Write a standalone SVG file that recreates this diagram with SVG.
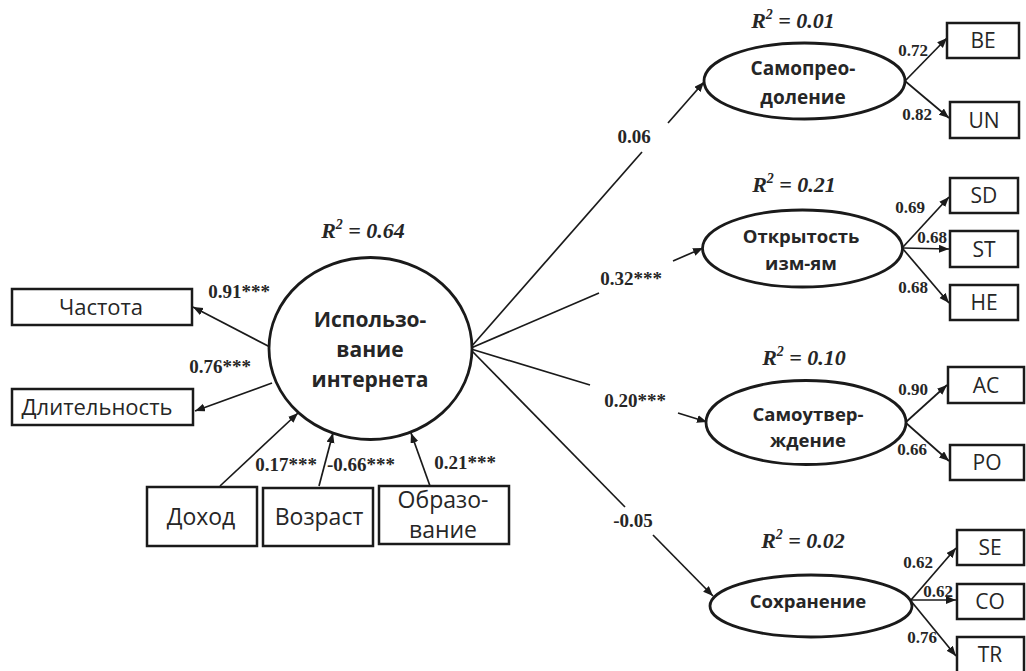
<svg xmlns="http://www.w3.org/2000/svg" width="1026" height="671" viewBox="0 0 1026 671">
<defs>
<marker id="ah" markerUnits="userSpaceOnUse" markerWidth="12" markerHeight="10" refX="10" refY="4" orient="auto">
<path d="M0,0 L10,4 L0,8 Z" fill="#1a1a1a"/>
</marker>
<style>
.box{fill:#fff;stroke:#1a1a1a;stroke-width:2.5}
.lat{fill:#fff;stroke:#1a1a1a;stroke-width:2.8}
.ln{stroke:#1a1a1a;stroke-width:1.7;fill:none}
.arr{stroke:#1a1a1a;stroke-width:1.7;fill:none;marker-end:url(#ah)}
.t{font-family:"Open Sans","Noto Sans",sans-serif;fill:#262626;text-anchor:middle}
.tb{font-family:"Open Sans","Noto Sans",sans-serif;fill:#262626;text-anchor:middle;font-weight:bold}
.c{font-family:"Liberation Serif","Times New Roman",serif;font-weight:bold;fill:#262626;text-anchor:middle}
.r2{font-family:"Liberation Serif","Times New Roman",serif;font-weight:bold;font-style:italic;fill:#262626;text-anchor:middle;font-size:22px}
</style>
</defs>
<rect width="1026" height="671" fill="#fff"/>

<g id="connectors">
<line class="arr" x1="270" y1="347" x2="193" y2="307"/>
<line class="arr" x1="272" y1="383" x2="195" y2="411"/>
<line class="arr" x1="220" y1="486" x2="298" y2="413"/>
<line class="arr" x1="319" y1="486" x2="333" y2="433"/>
<line class="arr" x1="430" y1="486" x2="411" y2="433"/>

<line class="ln" x1="471" y1="347" x2="642" y2="152"/>
<line class="arr" x1="668" y1="123" x2="704" y2="82"/>
<line class="ln" x1="471" y1="348" x2="599" y2="293"/>
<line class="arr" x1="673" y1="261" x2="703" y2="248"/>
<line class="ln" x1="471" y1="349" x2="590" y2="385"/>
<line class="arr" x1="678" y1="413" x2="707" y2="422"/>
<line class="ln" x1="471" y1="350" x2="625" y2="507"/>
<line class="arr" x1="653" y1="535" x2="713" y2="596"/>

<line class="arr" x1="905" y1="81" x2="947" y2="38"/>
<line class="arr" x1="905" y1="81" x2="949" y2="118"/>
<line class="arr" x1="903" y1="247" x2="949" y2="197"/>
<line class="arr" x1="903" y1="248" x2="949" y2="249"/>
<line class="arr" x1="903" y1="249" x2="949" y2="303"/>
<line class="arr" x1="906" y1="422" x2="947" y2="385"/>
<line class="arr" x1="906" y1="423" x2="949" y2="461"/>
<line class="arr" x1="911" y1="600" x2="956" y2="548"/>
<line class="arr" x1="911" y1="600" x2="956" y2="600"/>
<line class="arr" x1="911" y1="601" x2="956" y2="656"/>

<text class="c" font-size="19" x="239" y="298">0.91***</text>
<text class="c" font-size="19" x="220" y="373">0.76***</text>
<text class="c" font-size="19" x="286" y="471">0.17***</text>
<text class="c" font-size="19" x="361" y="471">-0.66***</text>
<text class="c" font-size="19" x="465" y="469">0.21***</text>
<text class="c" font-size="19" x="634" y="143">0.06</text>
<text class="c" font-size="19" x="631" y="285">0.32***</text>
<text class="c" font-size="19" x="635" y="407">0.20***</text>
<text class="c" font-size="19" x="633" y="527">-0.05</text>

<text class="c" font-size="17" x="913" y="56">0.72</text>
<text class="c" font-size="17" x="917" y="120">0.82</text>
<text class="c" font-size="17" x="910" y="213">0.69</text>
<text class="c" font-size="17" x="932" y="243">0.68</text>
<text class="c" font-size="17" x="913" y="293">0.68</text>
<text class="c" font-size="17" x="913" y="395">0.90</text>
<text class="c" font-size="17" x="912" y="455">0.66</text>
<text class="c" font-size="17" x="918" y="568">0.62</text>
<text class="c" font-size="17" x="938" y="597">0.62</text>
<text class="c" font-size="17" x="922" y="643">0.76</text>
</g>

<g id="r2-labels">
<text class="r2" x="363" y="238">R<tspan font-size="14" dy="-9">2</tspan><tspan dy="9"> = 0.64</tspan></text>
<text class="r2" x="793" y="28">R<tspan font-size="14" dy="-9">2</tspan><tspan dy="9"> = 0.01</tspan></text>
<text class="r2" x="794" y="192">R<tspan font-size="14" dy="-9">2</tspan><tspan dy="9"> = 0.21</tspan></text>
<text class="r2" x="804" y="365">R<tspan font-size="14" dy="-9">2</tspan><tspan dy="9"> = 0.10</tspan></text>
<text class="r2" x="803" y="548">R<tspan font-size="14" dy="-9">2</tspan><tspan dy="9"> = 0.02</tspan></text>
</g>

<g id="internet">
<ellipse class="lat" cx="370.5" cy="348.5" rx="101.5" ry="91"/>
<text class="tb" font-size="21" x="370" y="327">Использо-</text>
<text class="tb" font-size="21" x="370" y="357">вание</text>
<text class="tb" font-size="21" x="370" y="387">интернета</text>
</g>

<g id="chastota">
<rect class="box" x="12" y="289" width="180" height="36"/>
<text class="t" font-size="22" x="101" y="315">Частота</text>
</g>
<g id="dlitelnost">
<rect class="box" x="12" y="389" width="181" height="36"/>
<text class="t" font-size="22" x="97" y="415">Длительность</text>
</g>
<g id="dohod">
<rect class="box" x="147" y="487" width="110" height="59"/>
<text class="t" font-size="23" x="201" y="525">Доход</text>
</g>
<g id="vozrast">
<rect class="box" x="263" y="488" width="110" height="58"/>
<text class="t" font-size="23" x="319" y="525">Возраст</text>
</g>
<g id="obrazovanie">
<rect class="box" x="379" y="486" width="130" height="58"/>
<text class="t" font-size="23" x="443" y="508">Образо-</text>
<text class="t" font-size="23" x="443" y="538">вание</text>
</g>

<g id="samopreodolenie">
<ellipse class="lat" cx="804.5" cy="81" rx="100.5" ry="38"/>
<text class="tb" font-size="19" x="803" y="75">Самопрео-</text>
<text class="tb" font-size="19" x="803" y="104">доление</text>
</g>
<g id="otkrytost">
<ellipse class="lat" cx="802.5" cy="248.5" rx="100" ry="38.5"/>
<text class="tb" font-size="18.5" x="801" y="243">Открытость</text>
<text class="tb" font-size="18.5" x="801" y="270">изм-ям</text>
</g>
<g id="samoutverzhdenie">
<ellipse class="lat" cx="806" cy="422.5" rx="100" ry="42"/>
<text class="tb" font-size="18.5" x="808" y="421">Самоутвер-</text>
<text class="tb" font-size="18.5" x="808" y="447">ждение</text>
</g>
<g id="sohranenie">
<ellipse class="lat" cx="811" cy="606" rx="101" ry="31"/>
<text class="tb" font-size="18.5" x="808" y="608">Сохранение</text>
</g>

<g id="BE"><rect class="box" x="947" y="23" width="72" height="35"/><text class="t" font-size="21" x="983" y="48">BE</text></g>
<g id="UN"><rect class="box" x="950" y="102" width="69" height="36"/><text class="t" font-size="21" x="984" y="128">UN</text></g>
<g id="SD"><rect class="box" x="950" y="178" width="68" height="35"/><text class="t" font-size="21" x="984" y="203">SD</text></g>
<g id="ST"><rect class="box" x="950" y="231" width="68" height="36"/><text class="t" font-size="21" x="984" y="257">ST</text></g>
<g id="HE"><rect class="box" x="950" y="285" width="68" height="35"/><text class="t" font-size="21" x="984" y="310">HE</text></g>
<g id="AC"><rect class="box" x="948" y="367" width="76" height="36"/><text class="t" font-size="21" x="986" y="393">AC</text></g>
<g id="PO"><rect class="box" x="950" y="445" width="74" height="35"/><text class="t" font-size="21" x="987" y="470">PO</text></g>
<g id="SE"><rect class="box" x="957" y="530" width="67" height="35"/><text class="t" font-size="21" x="990" y="555">SE</text></g>
<g id="CO"><rect class="box" x="957" y="584" width="67" height="35"/><text class="t" font-size="21" x="990" y="609">CO</text></g>
<g id="TR"><rect class="box" x="957" y="637" width="67" height="36"/><text class="t" font-size="21" x="990" y="662">TR</text></g>
</svg>
